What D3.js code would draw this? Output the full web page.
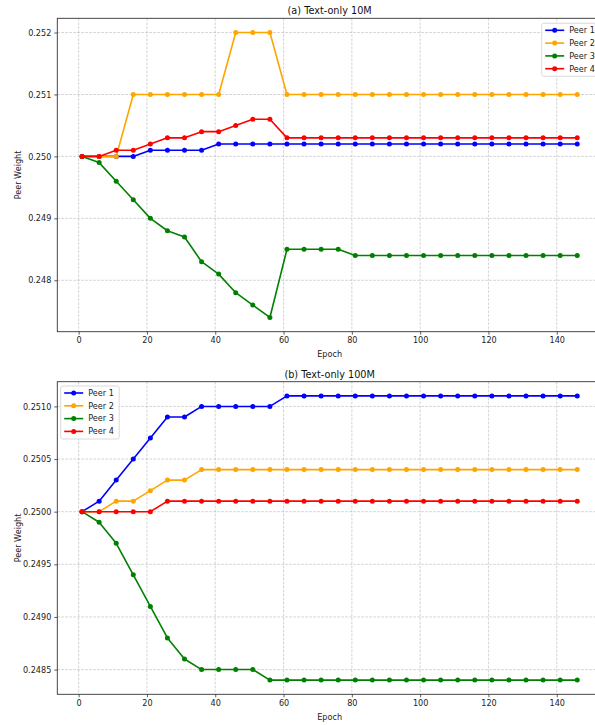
<!DOCTYPE html>
<html>
<head>
<meta charset="utf-8">
<script src="https://cdn.jsdelivr.net/npm/d3@7"></script>
<style>
  html, body { margin: 0; padding: 0; background: #fff; }
  svg { display: block; font-family: "DejaVu Sans", sans-serif; }
</style>
</head>
<body>
<svg id="chart" width="595" height="725"></svg>
<script>
// ---- data ----
const epochs = [1,6,11,16,21,26,31,36,41,46,51,56,61,66,71,76,81,86,91,96,101,106,111,116,121,126,131,136,141,146];
const peerNames = ["Peer 1", "Peer 2", "Peer 3", "Peer 4"];
const peerColors = ["#0000ff", "#ffa500", "#008000", "#ff0000"];

// (a) Text-only 10M
const a_peer1 = [0.2500,0.2500,0.2500,0.2500,0.2501,0.2501,0.2501,0.2501,0.2502,0.2502,0.2502,0.2502,0.2502,0.2502,0.2502,0.2502,0.2502,0.2502,0.2502,0.2502,0.2502,0.2502,0.2502,0.2502,0.2502,0.2502,0.2502,0.2502,0.2502,0.2502];
const a_peer2 = [0.2500,0.2500,0.2500,0.2510,0.2510,0.2510,0.2510,0.2510,0.2510,0.2520,0.2520,0.2520,0.2510,0.2510,0.2510,0.2510,0.2510,0.2510,0.2510,0.2510,0.2510,0.2510,0.2510,0.2510,0.2510,0.2510,0.2510,0.2510,0.2510,0.2510];
const a_peer3 = [0.2500,0.2499,0.2496,0.2493,0.2490,0.2488,0.2487,0.2483,0.2481,0.2478,0.2476,0.2474,0.2485,0.2485,0.2485,0.2485,0.2484,0.2484,0.2484,0.2484,0.2484,0.2484,0.2484,0.2484,0.2484,0.2484,0.2484,0.2484,0.2484,0.2484];
const a_peer4 = [0.2500,0.2500,0.2501,0.2501,0.2502,0.2503,0.2503,0.2504,0.2504,0.2505,0.2506,0.2506,0.2503,0.2503,0.2503,0.2503,0.2503,0.2503,0.2503,0.2503,0.2503,0.2503,0.2503,0.2503,0.2503,0.2503,0.2503,0.2503,0.2503,0.2503];
const a_yTicks = [0.248, 0.249, 0.250, 0.251, 0.252];

// (b) Text-only 100M
const b_peer1 = [0.2500,0.2501,0.2503,0.2505,0.2507,0.2509,0.2509,0.2510,0.2510,0.2510,0.2510,0.2510,0.2511,0.2511,0.2511,0.2511,0.2511,0.2511,0.2511,0.2511,0.2511,0.2511,0.2511,0.2511,0.2511,0.2511,0.2511,0.2511,0.2511,0.2511];
const b_peer2 = [0.2500,0.2500,0.2501,0.2501,0.2502,0.2503,0.2503,0.2504,0.2504,0.2504,0.2504,0.2504,0.2504,0.2504,0.2504,0.2504,0.2504,0.2504,0.2504,0.2504,0.2504,0.2504,0.2504,0.2504,0.2504,0.2504,0.2504,0.2504,0.2504,0.2504];
const b_peer3 = [0.2500,0.2499,0.2497,0.2494,0.2491,0.2488,0.2486,0.2485,0.2485,0.2485,0.2485,0.2484,0.2484,0.2484,0.2484,0.2484,0.2484,0.2484,0.2484,0.2484,0.2484,0.2484,0.2484,0.2484,0.2484,0.2484,0.2484,0.2484,0.2484,0.2484];
const b_peer4 = [0.2500,0.2500,0.2500,0.2500,0.2500,0.2501,0.2501,0.2501,0.2501,0.2501,0.2501,0.2501,0.2501,0.2501,0.2501,0.2501,0.2501,0.2501,0.2501,0.2501,0.2501,0.2501,0.2501,0.2501,0.2501,0.2501,0.2501,0.2501,0.2501,0.2501];
const b_yTicks = [0.2485, 0.2490, 0.2495, 0.2500, 0.2505, 0.2510];

const xTicks = [0, 20, 40, 60, 80, 100, 120, 140];

// ---- drawing ----
const svg = d3.select("#chart");

function panel(opts) {
  const {top, bottom, left, right, title, series, yTicks, yFmt, legendPos} = opts;
  const g = svg.append("g");

  // matplotlib-like auto limits with 5% margins
  const xMin = d3.min(epochs), xMax = d3.max(epochs);
  const xPad = (xMax - xMin) * 0.05;
  const x = d3.scaleLinear().domain([xMin - xPad, xMax + xPad]).range([left, right]);
  const allY = series.flat();
  const yMin = d3.min(allY), yMax = d3.max(allY);
  const yPad = (yMax - yMin) * 0.05;
  const y = d3.scaleLinear().domain([yMin - yPad, yMax + yPad]).range([bottom, top]);

  // grid
  const grid = g.append("g").attr("stroke", "#b0b0b0").attr("stroke-opacity", 0.7)
    .attr("stroke-width", 0.8).attr("stroke-dasharray", "2.6,1.4");
  grid.selectAll(".gx").data(xTicks).join("line")
    .attr("x1", d => x(d)).attr("x2", d => x(d)).attr("y1", top).attr("y2", bottom);
  grid.selectAll(".gy").data(yTicks).join("line")
    .attr("x1", left).attr("x2", right).attr("y1", d => y(d)).attr("y2", d => y(d));

  // axes
  const xAxis = g.append("g").attr("transform", `translate(0,${bottom})`)
    .call(d3.axisBottom(x).tickValues(xTicks).tickSize(3).tickPadding(3).tickFormat(d3.format("d")));
  const yAxis = g.append("g").attr("transform", `translate(${left},0)`)
    .call(d3.axisLeft(y).tickValues(yTicks).tickSize(3).tickPadding(3).tickFormat(d3.format(yFmt)));
  [xAxis, yAxis].forEach(a => {
    a.select(".domain").remove();
    a.selectAll("line").attr("stroke", "#333").attr("stroke-width", 0.8);
    a.selectAll("text").attr("fill", "#222").style("font-size", "8.1px").style("font-family", "DejaVu Sans");
  });

  // spines
  g.append("rect").attr("x", left).attr("y", top).attr("width", right - left).attr("height", bottom - top)
    .attr("fill", "none").attr("stroke", "#333").attr("stroke-width", 0.9);

  // lines & markers
  const line = d3.line().x((d, i) => x(epochs[i])).y(d => y(d));
  series.forEach((s, k) => {
    g.append("path").datum(s).attr("d", line).attr("fill", "none")
      .attr("stroke", peerColors[k]).attr("stroke-width", 1.6).attr("stroke-linejoin", "round");
    g.append("g").selectAll("circle").data(s).join("circle")
      .attr("cx", (d, i) => x(epochs[i])).attr("cy", d => y(d)).attr("r", 2.5)
      .attr("fill", peerColors[k]);
  });

  // title
  g.append("text").attr("x", (left + right) / 2).attr("y", top - 4).attr("text-anchor", "middle")
    .style("font-size", "9.7px").attr("fill", "#111").text(title);

  // axis labels
  g.append("text").attr("x", (left + right) / 2).attr("y", bottom + 25.5).attr("text-anchor", "middle")
    .style("font-size", "8.1px").attr("fill", "#222").text("Epoch");
  g.append("text").attr("transform", `translate(${left - 36.5},${(top + bottom) / 2}) rotate(-90)`)
    .attr("text-anchor", "middle").style("font-size", "8.1px").attr("fill", "#222").text("Peer Weight");

  // legend
  const lg = g.append("g").attr("transform", `translate(${legendPos[0]},${legendPos[1]})`);
  lg.append("rect").attr("x", 0).attr("y", 0).attr("width", 58.5).attr("height", 53)
    .attr("rx", 2).attr("fill", "#fff").attr("fill-opacity", 0.8).attr("stroke", "#d0d0d0").attr("stroke-width", 0.8);
  peerNames.forEach((name, k) => {
    const yy = 7 + k * 12.8;
    lg.append("line").attr("x1", 3.5).attr("x2", 22.5).attr("y1", yy).attr("y2", yy)
      .attr("stroke", peerColors[k]).attr("stroke-width", 1.6);
    lg.append("circle").attr("cx", 13).attr("cy", yy).attr("r", 2.5).attr("fill", peerColors[k]);
    lg.append("text").attr("x", 27.5).attr("y", yy).attr("dy", "0.35em")
      .style("font-size", "8.1px").attr("fill", "#222").text(name);
  });
}

panel({
  top: 18.3, bottom: 331.7, left: 57.3, right: 602,
  title: "(a) Text-only 10M",
  series: [a_peer1, a_peer2, a_peer3, a_peer4],
  yTicks: a_yTicks, yFmt: ".3f",
  legendPos: [541.7, 23.3]
});

panel({
  top: 381.7, bottom: 694.3, left: 57.3, right: 602,
  title: "(b) Text-only 100M",
  series: [b_peer1, b_peer2, b_peer3, b_peer4],
  yTicks: b_yTicks, yFmt: ".4f",
  legendPos: [60.7, 386]
});
</script>
</body>
</html>
